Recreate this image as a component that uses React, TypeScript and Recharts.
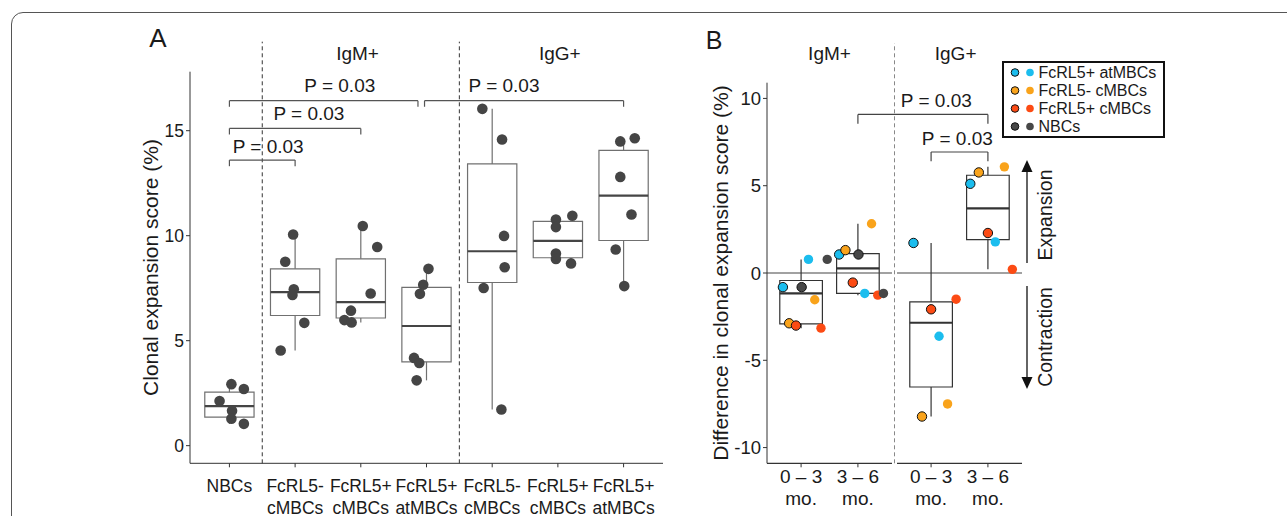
import React from 'react';
import {
  ComposedChart,
  Scatter,
  XAxis,
  YAxis,
  ReferenceArea,
  ReferenceLine,
  ReferenceDot,
} from 'recharts';

const FONT = '"Liberation Sans", Arial, Helvetica, sans-serif';
const INK = '#1a1a1a';

// ---------- Panel A: clonal expansion score per B cell subset ----------
const subsetsA = [
  'NBCs',
  'FcRL5-\ncMBCs',
  'FcRL5+\ncMBCs',
  'FcRL5+\natMBCs',
  'FcRL5-\ncMBCs',
  'FcRL5+\ncMBCs',
  'FcRL5+\natMBCs',
];
const isotypesA = ['IgM+', 'IgG+'];
const isotypeXA = [2.95, 6.03];
const scoresA = [
  [2.93, 2.7, 2.13, 1.66, 1.28, 1.04],
  [10.06, 8.76, 7.45, 7.18, 5.85, 4.53],
  [10.46, 9.46, 7.25, 6.43, 5.98, 5.87],
  [8.42, 7.66, 7.23, 4.18, 3.94, 3.11],
  [16.04, 14.58, 9.99, 8.5, 7.51, 1.72],
  [10.95, 10.77, 10.41, 9.15, 8.89, 8.68],
  [14.64, 14.49, 12.8, 11.01, 9.34, 7.6],
];
const jitterA = [
  [0.03, 0.22, -0.15, 0.04, 0.03, 0.22],
  [-0.03, -0.15, -0.02, -0.04, 0.14, -0.22],
  [0.03, 0.25, 0.15, -0.15, -0.25, -0.14],
  [0.03, -0.05, -0.1, -0.19, -0.11, -0.15],
  [-0.15, 0.15, 0.18, 0.19, -0.13, 0.14],
  [0.22, -0.03, -0.03, -0.03, -0.03, 0.2],
  [0.17, -0.05, -0.05, 0.12, -0.12, 0.01],
];
// lower whisker, q1, median, q3, upper whisker
const boxStatsA = [
  [1.04, 1.36, 1.88, 2.55, 2.93],
  [4.53, 6.2, 7.31, 8.42, 10.06],
  [5.87, 6.08, 6.84, 8.9, 10.46],
  [3.11, 3.99, 5.7, 7.54, 8.42],
  [1.72, 7.77, 9.26, 13.42, 16.04],
  [8.68, 8.95, 9.75, 10.68, 10.95],
  [7.6, 9.77, 11.91, 14.06, 14.64],
];
const dividersA = [1.5, 4.5];
const bracketsA = [
  { from: 1, to: 2, y: 13.6, lx: 1.59, ly: 14.27 },
  { from: 1, to: 3, y: 15.11, lx: 2.21, ly: 15.84 },
  { from: 1, to: 3.87, y: 16.43, lx: 2.68, ly: 17.18 },
  { from: 3.97, to: 7, y: 16.43, lx: 5.18, ly: 17.18 },
];
const pLabel = 'P = 0.03';

// ---------- Panel B: change in clonal expansion over time ----------
const periodsB = ['0 – 3\nmo.', '3 – 6\nmo.', '0 – 3\nmo.', '3 – 6\nmo.'];
const periodXB = [1, 2, 3.288, 4.288];
const facetsB = ['IgM+', 'IgG+'];
const facetXB = [1.5, 3.72];
const cellTypesB = ['FcRL5+ atMBCs', 'FcRL5- cMBCs', 'FcRL5+ cMBCs', 'NBCs'];
const typeColorsB = ['#1bbdee', '#f9a31b', '#fc4b14', '#474747'];
const diffsB = [
  [-0.81, -0.81, 0.78, 0.78, -1.53, -2.88, -3.01, -3.16],
  [1.06, 1.31, 1.06, 2.82, -0.55, -1.17, -1.27, -1.17],
  [1.72, -2.08, -1.5, -3.62, -8.22, -7.5],
  [5.76, 5.11, 6.08, 2.29, 1.78, 0.21],
];
const typesB = [
  [0, 3, 0, 3, 1, 1, 2, 2],
  [0, 1, 3, 1, 2, 0, 2, 3],
  [0, 2, 2, 0, 1, 1],
  [1, 0, 1, 2, 0, 2],
];
const outlinedB = [
  [1, 1, 0, 0, 0, 1, 1, 0],
  [1, 1, 1, 0, 1, 0, 0, 0],
  [1, 1, 0, 0, 1, 0],
  [1, 1, 0, 1, 0, 0],
];
const jitterB = [
  [-0.32, 0.01, 0.13, 0.46, 0.24, -0.21, -0.09, 0.35],
  [-0.33, -0.22, 0.01, 0.24, -0.09, 0.12, 0.35, 0.45],
  [-0.31, 0, 0.44, 0.14, -0.16, 0.29],
  [-0.16, -0.31, 0.29, 0, 0.13, 0.43],
];
const boxStatsB = [
  [-3.16, -2.91, -1.17, -0.43, 0.78],
  [-1.27, -1.17, 0.26, 1.11, 2.82],
  [-8.22, -6.53, -2.85, -1.65, 1.72],
  [0.21, 1.91, 3.7, 5.6, 6.08],
];
const facetRangesB = [
  [0.4, 2.6],
  [2.688, 4.888],
];
const dividerB = 2.644;
const bracketsB = [
  { from: 2, to: 4.288, y: 9.08, lx: 3.38, ly: 9.89 },
  { from: 3.288, to: 4.288, y: 6.93, lx: 3.75, ly: 7.73 },
];

const pointsA = scoresA.flatMap((vals, i) =>
  vals.map((v, j) => ({ x: i + 1 + jitterA[i][j], y: v }))
);
const pointsB = diffsB.flatMap((vals, i) =>
  vals.map((v, j) => ({
    x: periodXB[i] + jitterB[i][j],
    y: v,
    color: typeColorsB[typesB[i][j]],
    outlined: outlinedB[i][j] === 1,
  }))
);

const makeTick = (labels: string[], ticks: number[], size: number, first: number, gap: number) =>
  (props: any) => {
    const { x, y, payload } = props;
    let idx = props.index;
    if (idx === undefined) idx = ticks.indexOf(payload.value);
    const lines = (labels[idx] || '').split('\n');
    return (
      <text x={x} y={y} textAnchor="middle" fontSize={size} fill={INK}>
        {lines.map((line, i) => (
          <tspan key={i} x={x} dy={i === 0 ? first : gap}>
            {line}
          </tspan>
        ))}
      </text>
    );
  };

const TickA = makeTick(subsetsA, [1, 2, 3, 4, 5, 6, 7], 17.5, 22.6, 21.6);
const TickB = makeTick(periodsB, periodXB, 19, 14, 21.7);

const DotA = (p: any) => <circle cx={p.cx} cy={p.cy} r={5.3} fill="#454545" />;
const DotB = (p: any) => {
  const d = p.payload || p;
  return (
    <circle
      cx={p.cx}
      cy={p.cy}
      r={4.7}
      fill={d.color}
      stroke={d.outlined ? '#111' : 'none'}
      strokeWidth={1}
    />
  );
};

function boxElements(stats: number[][], centers: number[], half: number, stroke: string, med: string, prefix: string) {
  return stats.flatMap((s, i) => {
    const c = centers[i];
    return [
      <ReferenceLine key={`${prefix}wl${i}`} segment={[{ x: c, y: s[0] }, { x: c, y: s[1] }]} stroke={stroke} strokeWidth={1.2} />,
      <ReferenceLine key={`${prefix}wh${i}`} segment={[{ x: c, y: s[3] }, { x: c, y: s[4] }]} stroke={stroke} strokeWidth={1.2} />,
      <ReferenceArea key={`${prefix}b${i}`} x1={c - half} x2={c + half} y1={s[1]} y2={s[3]} fill="none" fillOpacity={0} stroke={stroke} strokeWidth={1.2} />,
      <ReferenceLine key={`${prefix}m${i}`} segment={[{ x: c - half, y: s[2] }, { x: c + half, y: s[2] }]} stroke={med} strokeWidth={2.2} />,
    ];
  });
}

function bracketElements(brackets: any[], tip: number, stroke: string, prefix: string) {
  return brackets.flatMap((b, i) => [
    <ReferenceLine key={`${prefix}h${i}`} segment={[{ x: b.from, y: b.y }, { x: b.to, y: b.y }]} stroke={stroke} strokeWidth={1.2} ifOverflow="visible" />,
    <ReferenceLine key={`${prefix}l${i}`} segment={[{ x: b.from, y: b.y }, { x: b.from, y: b.y - tip }]} stroke={stroke} strokeWidth={1.2} ifOverflow="visible" />,
    <ReferenceLine key={`${prefix}r${i}`} segment={[{ x: b.to, y: b.y }, { x: b.to, y: b.y - tip }]} stroke={stroke} strokeWidth={1.2} ifOverflow="visible" />,
    <ReferenceDot
      key={`${prefix}t${i}`}
      x={b.lx}
      y={b.ly}
      r={0}
      fill="none"
      stroke="none"
      ifOverflow="visible"
      label={{ value: pLabel, position: 'center', fontSize: 19, fill: INK }}
    />,
  ]);
}

const PanelA = () => (
  <ComposedChart width={700} height={516} margin={{ top: 71.7, right: 37, bottom: 0, left: 112 }}>
    <XAxis
      type="number"
      dataKey="x"
      domain={[0.4, 7.6]}
      ticks={[1, 2, 3, 4, 5, 6, 7]}
      interval={0}
      height={52.7}
      stroke="#333"
      tickSize={4}
      tick={TickA}
    />
    <YAxis
      type="number"
      dataKey="y"
      domain={[-0.84, 17.81]}
      ticks={[0, 5, 10, 15]}
      width={78}
      stroke="#333"
      tickSize={4}
      tick={{ fontSize: 17.5, fill: INK }}
      label={{ value: 'Clonal expansion score (%)', angle: -90, position: 'center', fontSize: 21, fill: INK }}
    />
    {dividersA.map((d, i) => (
      <ReferenceLine key={`dv${i}`} segment={[{ x: d, y: -0.84 }, { x: d, y: 19.24 }]} stroke="#333" strokeDasharray="4 3" ifOverflow="visible" />
    ))}
    {isotypesA.map((t, i) => (
      <ReferenceDot key={`iso${i}`} x={isotypeXA[i]} y={18.67} r={0} fill="none" stroke="none" ifOverflow="visible" label={{ value: t, position: 'center', fontSize: 19, fill: INK }} />
    ))}
    {boxElements(boxStatsA, [1, 2, 3, 4, 5, 6, 7], 0.375, '#707070', '#454545', 'a')}
    {bracketElements(bracketsA, 0.29, '#555', 'ba')}
    <Scatter data={pointsA} shape={DotA} isAnimationActive={false} />
  </ComposedChart>
);

const PanelB = () => (
  <ComposedChart width={612} height={516} margin={{ top: 82.7, right: 265, bottom: 0, left: 0 }}>
    <XAxis
      type="number"
      dataKey="x"
      domain={[0.4, 4.888]}
      ticks={periodXB}
      interval={0}
      height={52.7}
      axisLine={false}
      stroke="#333"
      tickSize={4}
      tick={TickB}
    />
    <YAxis
      type="number"
      dataKey="y"
      domain={[-10.9, 10.9]}
      ticks={[-10, -5, 0, 5, 10]}
      width={92}
      stroke="#333"
      tickSize={4}
      tick={{ fontSize: 18.5, fill: INK }}
      label={{ value: 'Difference in clonal expansion score (%)', angle: -90, position: 'center', fontSize: 21, fill: INK }}
    />
    {facetRangesB.map((r, i) => (
      <ReferenceLine key={`ax${i}`} segment={[{ x: r[0], y: -10.9 }, { x: r[1], y: -10.9 }]} stroke="#333" strokeWidth={1.3} ifOverflow="visible" />
    ))}
    {facetRangesB.map((r, i) => (
      <ReferenceLine key={`z${i}`} segment={[{ x: r[0], y: 0 }, { x: r[1], y: 0 }]} stroke="#444" strokeWidth={1.2} ifOverflow="visible" />
    ))}
    <ReferenceLine segment={[{ x: dividerB, y: -10.9 }, { x: dividerB, y: 13.17 }]} stroke="#888" strokeDasharray="4 3" ifOverflow="visible" />
    {facetsB.map((t, i) => (
      <ReferenceDot key={`fc${i}`} x={facetXB[i]} y={12.61} r={0} fill="none" stroke="none" ifOverflow="visible" label={{ value: t, position: 'center', fontSize: 19, fill: INK }} />
    ))}
    {boxElements(boxStatsB, periodXB, 0.375, '#333', '#333', 'b')}
    {bracketElements(bracketsB, 0.53, '#444', 'bb')}
    <Scatter data={pointsB} shape={DotB} isAnimationActive={false} />
  </ComposedChart>
);

const LegendB = () => (
  <svg width={163} height={77} style={{ position: 'absolute', left: 1002, top: 61 }}>
    <rect x={1} y={1} width={161} height={75} fill="#fff" stroke="#111" strokeWidth={2} />
    {cellTypesB.map((t, i) => (
      <g key={t}>
        <circle cx={13} cy={11.5 + i * 18} r={3.8} fill={typeColorsB[i]} stroke="#111" strokeWidth={1} />
        <circle cx={28} cy={11.5 + i * 18} r={3.8} fill={typeColorsB[i]} />
        <text x={36.5} y={11.5 + i * 18} dy="0.35em" fontSize={16} fill={INK}>
          {t}
        </text>
      </g>
    ))}
  </svg>
);

const Annotations = () => (
  <svg width={1287} height={516} style={{ position: 'absolute', left: 0, top: 0, pointerEvents: 'none' }}>
    <text x={158} y={38} dy="0.35em" textAnchor="middle" fontSize={26} fill={INK}>A</text>
    <text x={714} y={40} dy="0.35em" textAnchor="middle" fontSize={25} fill={INK}>B</text>
    <line x1={1027} y1={263} x2={1027} y2={170} stroke="#111" strokeWidth={1.3} />
    <polygon points="1027,160 1021.5,172 1032.5,172" fill="#111" />
    <line x1={1027} y1={286} x2={1027} y2={378} stroke="#111" strokeWidth={1.3} />
    <polygon points="1027,389 1021.5,377 1032.5,377" fill="#111" />
    <text x={1045} y={215} dy="0.35em" textAnchor="middle" fontSize={19.5} fill={INK} transform="rotate(-90 1045 215)">Expansion</text>
    <text x={1045} y={337} dy="0.35em" textAnchor="middle" fontSize={19.5} fill={INK} transform="rotate(-90 1045 337)">Contraction</text>
  </svg>
);

export default function App() {
  return (
    <div style={{ position: 'absolute', left: 0, top: 0, width: 1287, height: 516, overflow: 'hidden', background: '#fff', fontFamily: FONT }}>
      <div style={{ position: 'absolute', left: 11, top: 12, width: 1400, height: 700, border: '1.5px solid #555', borderRadius: 12 }} />
      <div style={{ position: 'absolute', left: 0, top: 0 }}>
        <PanelA />
      </div>
      <div style={{ position: 'absolute', left: 675, top: 0 }}>
        <PanelB />
      </div>
      <Annotations />
      <LegendB />
    </div>
  );
}
